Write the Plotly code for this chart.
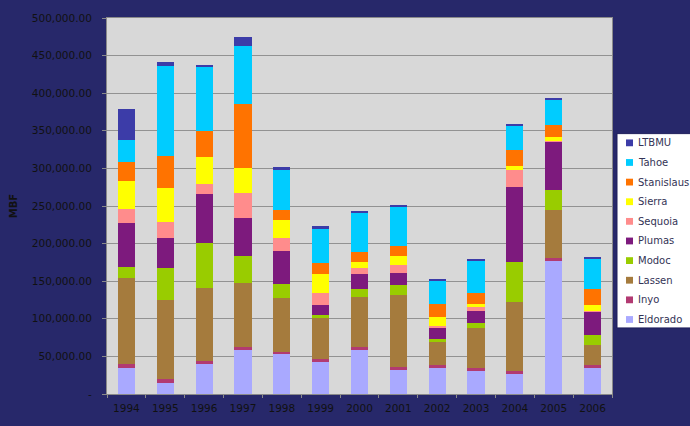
import plotly.graph_objects as go

years = ["1994", "1995", "1996", "1997", "1998", "1999", "2000", "2001", "2002", "2003", "2004", "2005", "2006"]

eldorado   = [35000, 15000, 40000, 59000, 53000, 43000, 59000, 32000, 35000, 31000, 27000, 178000, 35000]
inyo       = [5000, 5500, 4300, 3500, 3400, 4000, 3500, 3400, 3100, 3500, 3400, 2300, 3000]
lassen     = [114500, 104000, 97000, 85000, 71000, 54000, 67000, 96000, 30600, 53600, 92600, 64000, 27300]
modoc      = [15000, 43000, 59000, 35500, 19500, 3500, 9500, 13000, 3900, 6500, 52200, 26800, 13800]
plumas     = [57500, 40500, 65000, 51000, 43000, 14000, 21000, 16400, 15200, 15200, 100400, 65000, 30000]
sequoia    = [19000, 20700, 14500, 33700, 17000, 15600, 8200, 10800, 2600, 6400, 22500, 1000, 800]
sierra     = [37000, 45500, 35500, 33300, 24000, 25500, 7400, 12200, 12600, 3400, 4700, 4600, 8700]
stanislaus = [25000, 42000, 34000, 85000, 14000, 14300, 13000, 13000, 17200, 14300, 21300, 16500, 20800]
tahoe      = [30000, 120000, 86000, 77000, 53000, 46700, 51800, 52600, 30800, 44000, 32400, 33100, 41100]
ltbmu      = [41000, 5500, 2800, 12200, 4000, 2600, 3000, 1800, 800, 1900, 1300, 1400, 2200]

series_names = ["Eldorado", "Inyo", "Lassen", "Modoc", "Plumas", "Sequoia", "Sierra", "Stanislaus", "Tahoe", "LTBMU"]
series_values = [eldorado, inyo, lassen, modoc, plumas, sequoia, sierra, stanislaus, tahoe, ltbmu]
series_colors = ["#a9a9ff", "#b23a72", "#a57b3d", "#99cc00", "#7d1a7d", "#ff8c8c", "#ffff00", "#ff7300", "#00ccff", "#3c3ca8"]

y_tickvals = [0, 50000, 100000, 150000, 200000, 250000, 300000, 350000, 400000, 450000, 500000]
y_ticktext = ["-", "50,000.00", "100,000.00", "150,000.00", "200,000.00", "250,000.00",
              "300,000.00", "350,000.00", "400,000.00", "450,000.00", "500,000.00"]

W, H = 690, 426
ML, MR, MT, MB = 107, 78, 13, 26
PW, PH = W - ML - MR, H - MT - MB


def px_x(px):
    return (px - ML) / PW


def px_y(py):
    return (H - MB - py) / PH


fig = go.Figure()
for name, vals, col in zip(series_names, series_values, series_colors):
    fig.add_trace(go.Bar(x=years, y=vals, name=name, marker=dict(color=col, line=dict(width=0)),
                         showlegend=False))

# Legend box (drawn like the original chart's legend, which runs off the right edge)
shapes = [dict(type="rect", xref="paper", yref="paper",
               x0=px_x(617), x1=px_x(700), y0=px_y(332), y1=px_y(132),
               fillcolor="#ffffff", line=dict(color="#1e1e5a", width=1), layer="above")]
annotations = []
leg_top, leg_step = 141.5, 20.2
for i, (name, col) in enumerate(reversed(list(zip(series_names, series_colors)))):
    cy = leg_top + i * leg_step
    shapes.append(dict(type="rect", xref="paper", yref="paper",
                       x0=px_x(626), x1=px_x(633), y0=px_y(cy + 3.5), y1=px_y(cy - 3.5),
                       fillcolor=col, line=dict(width=0), layer="above"))
    annotations.append(dict(xref="paper", yref="paper", x=px_x(636), y=px_y(cy),
                            xanchor="left", yanchor="middle", showarrow=False, text=name,
                            font=dict(family="DejaVu Sans", size=10, color="#333355")))

fig.update_layout(
    width=W, height=H,
    barmode="stack",
    bargap=0.56,
    paper_bgcolor="#27286a",
    plot_bgcolor="#d8d8d8",
    margin=dict(l=ML, r=MR, t=MT, b=MB),
    font=dict(family="DejaVu Sans", size=10.5, color="#111111"),
    showlegend=False,
    shapes=shapes,
    annotations=annotations,
)
fig.update_xaxes(
    type="category",
    showline=True, linecolor="#8a8a8a", linewidth=1, mirror=True,
    ticks="outside", ticklen=3, tickcolor="#8a8a8a", tickson="boundaries",
    tickfont=dict(size=10.5, color="#111111"),
    ticklabelstandoff=4,
    showgrid=False,
)
fig.update_yaxes(
    range=[0, 500000],
    tickvals=y_tickvals, ticktext=y_ticktext,
    showgrid=True, gridcolor="#929292", gridwidth=1,
    showline=True, linecolor="#8a8a8a", linewidth=1, mirror=True,
    ticks="outside", ticklen=4, tickcolor="#8a8a8a",
    tickfont=dict(size=10.5, color="#111111"),
    ticklabelstandoff=8,
    title=dict(text="<b>MBF</b>", font=dict(size=10, color="#111111"), standoff=12),
    zeroline=False,
)

fig.write_html("out.html")
